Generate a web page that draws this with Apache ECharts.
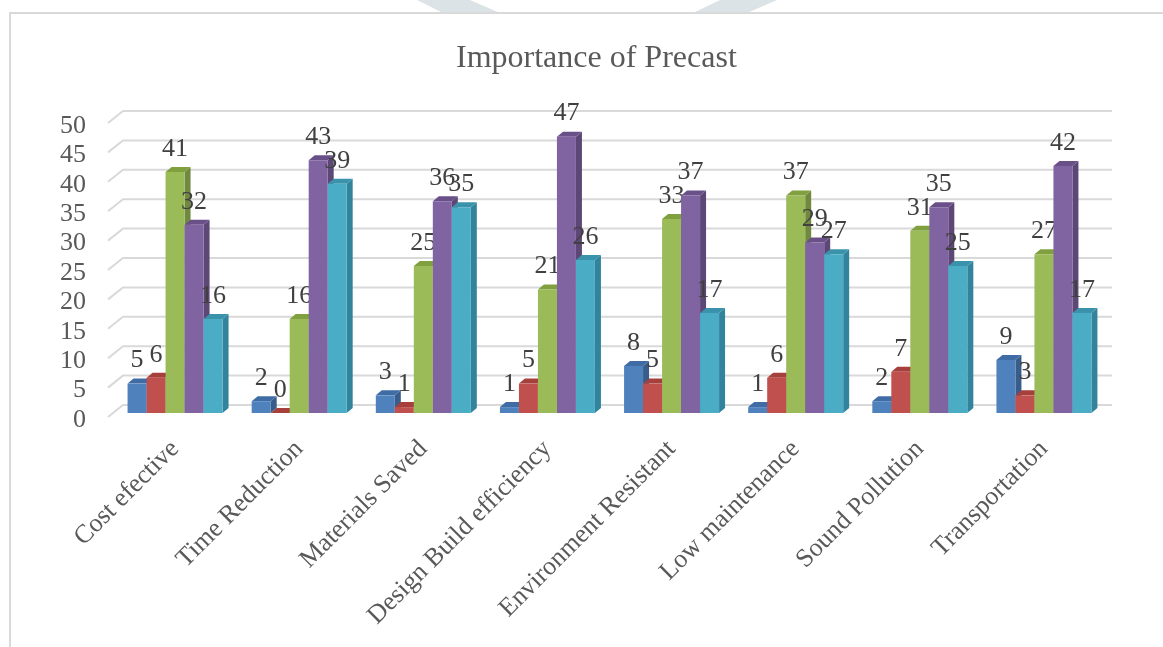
<!DOCTYPE html>
<html>
<head>
<meta charset="utf-8">
<script src="https://cdn.jsdelivr.net/npm/echarts@6/dist/echarts.min.js"></script>
<style>
html,body{margin:0;padding:0;background:#fff;}
#chart{width:1163px;height:647px;}
</style>
</head>
<body>
<div id="chart"></div>
<script>
// ---- data ----
const categories = ['Cost efective','Time Reduction','Materials Saved','Design Build efficiency','Environment Resistant','Low maintenance','Sound Pollution','Transportation'];
const series1 = [5, 2, 3, 1, 8, 1, 2, 9];
const series2 = [6, 0, 1, 5, 5, 6, 7, 3];
const series3 = [41, 16, 25, 21, 33, 37, 31, 27];
const series4 = [32, 43, 36, 47, 37, 29, 35, 42];
const series5 = [16, 39, 35, 26, 17, 27, 25, 17];
const tickValues = [0, 5, 10, 15, 20, 25, 30, 35, 40, 45, 50];
const seriesNames = ['Series 1','Series 2','Series 3','Series 4','Series 5'];

// ---- styles ----
const palette = [
  {front:'#4F81BD', top:'#3F6CA4', side:'#385D8A'},
  {front:'#C0504D', top:'#A5403D', side:'#8C3836'},
  {front:'#9BBB59', top:'#80A040', side:'#71893F'},
  {front:'#8064A2', top:'#6A5088', side:'#5C4776'},
  {front:'#4BACC6', top:'#3A93AB', side:'#31849B'}
];
const BAR_W = 19, DX = 6, DY = -5;
const FONT = "'Liberation Serif', 'Times New Roman', serif";

const chart = echarts.init(document.getElementById('chart'));

function barRender(si) {
  return function (params, api) {
    const cat = api.value(0), val = api.value(1);
    const base = api.coord([cat, 0]);
    const top = api.coord([cat, val]);
    const x0 = base[0] - (5 * BAR_W) / 2 + si * BAR_W;
    const x1 = x0 + BAR_W;
    const yb = base[1], yt = top[1];
    const c = palette[si];
    return {
      type: 'group',
      children: [
        {type:'polygon', shape:{points:[[x1,yb],[x1+DX,yb+DY],[x1+DX,yt+DY],[x1,yt]]}, style:{fill:c.side}},
        {type:'polygon', shape:{points:[[x0,yt],[x1,yt],[x1+DX,yt+DY],[x0+DX,yt+DY]]}, style:{fill:c.top}},
        {type:'rect', shape:{x:x0, y:yt, width:BAR_W, height:yb-yt}, style:{fill:c.front}},
        {type:'text', x:(x0+x1)/2, y:yt-10, style:{text:String(val), font:"26px " + FONT, fill:'#404040', align:'center', verticalAlign:'bottom'}}
      ]
    };
  };
}

function gridRender(params, api) {
  const v = api.value(0);
  const p = api.coord([0, v]);
  const cs = params.coordSys;
  const y = p[1];
  return {
    type:'polyline',
    shape:{points:[[cs.x-5, y+4],[cs.x+10, y-8],[cs.x+cs.width+6, y-8]]},
    style:{stroke:'#d9d9d9', lineWidth:2, fill:null}
  };
}

const allSeries = [series1, series2, series3, series4, series5];

const option = {
  backgroundColor:'#fff',
  animation:false,
  title:{
    text:'Importance of Precast', left:451, top:38,
    textStyle:{fontFamily:FONT, fontSize:32, fontWeight:'normal', color:'#595959'}
  },
  graphic:[
    {type:'polygon', shape:{points:[[417,0],[470,0],[500,13],[443,13]]}, style:{fill:'#dce3e6'}, z:0},
    {type:'polygon', shape:{points:[[720,0],[777,0],[747,13],[693,13]]}, style:{fill:'#dce3e6'}, z:0},
    {type:'polyline', shape:{points:[[10,660],[10,13],[1170,13]]}, style:{stroke:'#d9d9d9', lineWidth:2, fill:null}, z:1}
  ],
  grid:{left:113, right:57, top:119, bottom:234},
  xAxis:{
    type:'category', data:categories,
    axisLine:{show:false}, axisTick:{show:false},
    axisLabel:{rotate:45, interval:0, margin:32, fontFamily:FONT, fontSize:26, color:'#595959'}
  },
  yAxis:{
    type:'value', min:0, max:50, interval:5,
    axisLine:{show:false}, axisTick:{show:false}, splitLine:{show:false},
    axisLabel:{margin:27, fontFamily:FONT, fontSize:26, color:'#595959', verticalAlign:'top', lineHeight:14}
  },
  series:[
    {type:'custom', name:'grid', data:tickValues.map(v=>[v]), renderItem:gridRender, z:1, silent:true,
     encode:{y:0}},
  ].concat(allSeries.map((arr, si) => ({
    type:'custom', name:seriesNames[si],
    data:arr.map((v, i) => [i, v]),
    renderItem:barRender(si), z:2,
    encode:{x:0, y:1}
  })))
};
chart.setOption(option);
</script>
</body>
</html>
